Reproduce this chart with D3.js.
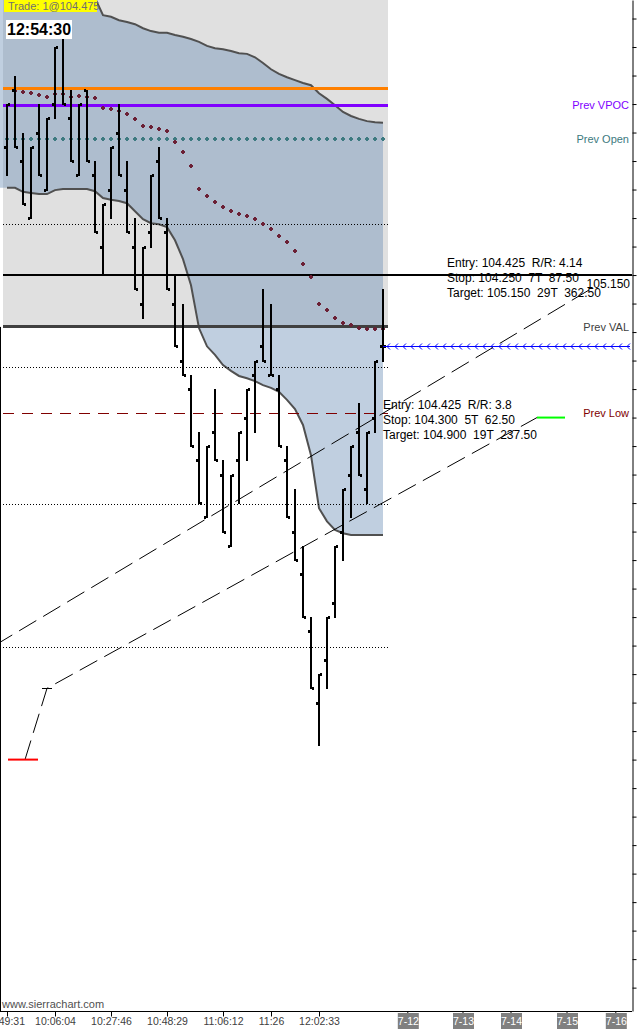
<!DOCTYPE html>
<html>
<head>
<meta charset="utf-8">
<script src="https://cdn.jsdelivr.net/npm/d3@7"></script>
<style>
  body { margin: 0; background: #fff; }
  svg { display: block; }
  text { font-family: "Liberation Sans", Arial, sans-serif; white-space: pre; }
</style>
</head>
<body>
<div class="price-chart"></div>
<script>
const width = 637;
const height = 1029;
const plotRight = 632;
const plotBottom = 1011;

// OHLC bars, one per bar slot (index 0 = 9:49:31)
const barOpen = [105.375, 105.475, 105.350, 105.250, 105.400, 105.300, 105.450, 105.575, 105.425, 105.325,
  105.475, 105.325, 105.200, 105.300, 105.400, 105.300, 105.200, 105.100, 105.225, 105.350,
  105.225, 105.100, 105.000, 104.950, 104.825, 104.725, 104.875, 104.800, 104.675, 104.825,
  104.900, 104.975, 105.025, 104.975, 104.950, 104.825, 104.700, 104.625, 104.525, 104.400,
  104.475, 104.575, 104.700, 104.800, 104.875, 104.775, 104.900, 105.025];
const barHigh = [105.450, 105.500, 105.400, 105.375, 105.450, 105.425, 105.550, 105.575, 105.475, 105.450,
  105.475, 105.350, 105.275, 105.375, 105.450, 105.350, 105.250, 105.200, 105.325, 105.375,
  105.250, 105.150, 105.100, 104.975, 104.875, 104.850, 104.950, 104.825, 104.800, 104.875,
  104.950, 105.000, 105.125, 105.100, 104.975, 104.850, 104.775, 104.675, 104.550, 104.450,
  104.550, 104.675, 104.775, 104.850, 104.925, 104.875, 105.000, 105.125];
const barLow = [105.325, 105.375, 105.275, 105.250, 105.325, 105.300, 105.425, 105.450, 105.350, 105.325,
  105.350, 105.225, 105.150, 105.250, 105.325, 105.225, 105.125, 105.075, 105.200, 105.250,
  105.125, 105.025, 104.975, 104.850, 104.750, 104.725, 104.825, 104.700, 104.675, 104.750,
  104.825, 104.875, 105.000, 104.975, 104.850, 104.725, 104.650, 104.550, 104.425, 104.325,
  104.425, 104.550, 104.650, 104.725, 104.800, 104.750, 104.875, 105.000];
const barClose = [105.450, 105.375, 105.275, 105.375, 105.325, 105.425, 105.550, 105.450, 105.350, 105.450,
  105.350, 105.225, 105.275, 105.375, 105.325, 105.225, 105.125, 105.200, 105.325, 105.250,
  105.125, 105.025, 104.975, 104.850, 104.750, 104.850, 104.825, 104.700, 104.800, 104.875,
  104.950, 105.000, 105.000, 104.975, 104.850, 104.725, 104.650, 104.550, 104.425, 104.450,
  104.550, 104.675, 104.775, 104.850, 104.800, 104.875, 105.000, 105.025];

// band (upper / lower), one value per bar slot
const bandUpper = [105.738, 105.724, 105.711, 105.701, 105.690, 105.680, 105.671, 105.662, 105.654, 105.646,
  105.639, 105.636, 105.606, 105.603, 105.597, 105.594, 105.590, 105.583, 105.578, 105.575,
  105.575, 105.571, 105.568, 105.564, 105.559, 105.552, 105.548, 105.546, 105.543, 105.539,
  105.538, 105.532, 105.522, 105.511, 105.503, 105.497, 105.492, 105.487, 105.483, 105.469,
  105.459, 105.448, 105.436, 105.429, 105.424, 105.420, 105.418, 105.417];
const bandLower = [105.303, 105.303, 105.296, 105.294, 105.292, 105.292, 105.299, 105.301, 105.301, 105.301,
  105.301, 105.297, 105.285, 105.282, 105.280, 105.276, 105.262, 105.248, 105.241, 105.239,
  105.234, 105.211, 105.178, 105.132, 105.057, 105.025, 105.010, 104.992, 104.982, 104.973,
  104.969, 104.964, 104.957, 104.952, 104.945, 104.931, 104.915, 104.887, 104.834, 104.741,
  104.718, 104.703, 104.697, 104.694, 104.694, 104.694, 104.694, 104.694];

// dotted average (maroon dots)
const vwap = [null, 105.473, 105.471, 105.469, 105.466, 105.462, 105.468, 105.468, 105.462, 105.464,
  105.462, 105.461, 105.443, 105.441, 105.438, 105.432, 105.424, 105.411, 105.410, 105.406,
  105.403, 105.383, 105.366, 105.341, 105.301, 105.289, 105.278, 105.269, 105.262, 105.257,
  105.254, 105.248, 105.239, 105.231, 105.218, 105.208, 105.192, 105.169, 105.146, 105.099,
  105.089, 105.075, 105.066, 105.062, 105.057, 105.055, 105.055, 105.055];

// horizontal levels
const orangeLevel = 105.478;
const prevVpoc = 105.448;
const prevOpen = 105.389;
const prevVal = 105.059;
const prevLow = 104.908;
const targetLevel = 105.150;
const lastPrice = 105.025;
const gridLevels = [105.240, 104.989, 104.748, 104.497];

// risk / reward drawings (bar index, price)
const rrUpper = [{ i: -10.5, p: 104.425 }, { i: 72.9, p: 105.125 }];
const rrLowerStop = { i: 2.25, p: 104.300 };
const rrLowerEntry = { i: 5, p: 104.425 };
const rrLowerTarget = { i: 66.25, p: 104.900 };
const rrUpperText = ["Entry: 104.425  R/R: 4.14", "Stop: 104.250  7T  87.50", "Target: 105.150  29T  362.50"];
const rrLowerText = ["Entry: 104.425  R/R: 3.8", "Stop: 104.300  5T  62.50", "Target: 104.900  19T  237.50"];

// axis labels
const timeTickIdx = [0, 6, 13, 20, 27, 33, 39];
const timeTickLabels = ["9:49:31", "10:06:04", "10:27:46", "10:48:29", "11:06:12", "11:26", "12:02:33"];
const dateTickIdx = [50.1, 57, 63, 70, 76.1];
const dateTickLabels = ["7-12", "7-13", "7-14", "7-15", "7-16"];
const priceTicks = d3.range(103.9, 105.62, 0.05);

const x = d3.scaleLinear().domain([0, 78.125]).range([7, plotRight]);
const y = d3.scaleLinear().domain([103.859, 105.6325]).range([plotBottom, 0]);

const svg = d3.select(".price-chart")
  .append("svg")
  .attr("width", width)
  .attr("height", height);

const nBars = barOpen.length;
const lastX = x(nBars - 1);

// previous value area background
svg.append("rect")
  .attr("x", 3)
  .attr("y", 0)
  .attr("width", lastX + 5 - 3)
  .attr("height", y(prevVal))
  .attr("fill", "#e0e0e0");

// band fill (starts at chart left edge)
const bandData = bandUpper.map((u, i) => ({ i: i, u: u, l: bandLower[i] }));
const bandFillData = [{ i: x.invert(0), u: bandUpper[0], l: bandLower[0] }].concat(bandData);
svg.append("path")
  .datum(bandFillData)
  .attr("fill", "rgba(105,141,181,0.42)")
  .attr("d", d3.area().x(d => x(d.i)).y0(d => y(d.l)).y1(d => y(d.u)));

svg.append("path")
  .datum(bandData)
  .attr("fill", "none")
  .attr("stroke", "#505050")
  .attr("stroke-width", 2)
  .attr("d", d3.line().x(d => x(d.i)).y(d => y(d.u)));
svg.append("path")
  .datum(bandData)
  .attr("fill", "none")
  .attr("stroke", "#505050")
  .attr("stroke-width", 2)
  .attr("d", d3.line().x(d => x(d.i)).y(d => y(d.l)));

// dotted grid
svg.selectAll("line.grid")
  .data(gridLevels)
  .join("line")
  .attr("class", "grid")
  .attr("x1", 3)
  .attr("x2", lastX + 5)
  .attr("y1", d => Math.round(y(d)) + 0.5)
  .attr("y2", d => Math.round(y(d)) + 0.5)
  .attr("stroke", "#000")
  .attr("stroke-dasharray", "1,2")
  .attr("shape-rendering", "crispEdges");

// level lines
function levelLine(price, color, w, dash, x2) {
  svg.append("line")
    .attr("x1", 3)
    .attr("x2", x2)
    .attr("y1", y(price))
    .attr("y2", y(price))
    .attr("stroke", color)
    .attr("stroke-width", w)
    .attr("stroke-dasharray", dash)
    .attr("shape-rendering", "crispEdges");
}
levelLine(orangeLevel, "#ff8000", 3, null, lastX + 5);
levelLine(prevVpoc, "#8000ff", 3, null, lastX + 5);
levelLine(prevVal, "#404040", 3, null, lastX + 5);
levelLine(prevLow, "#800000", 1, "11,8", lastX + 5);
levelLine(targetLevel, "#000", 2, null, plotRight);

// small plus markers
function plusMarks(data, cls, color) {
  const g = svg.append("g").attr("class", cls).attr("fill", color).attr("shape-rendering", "crispEdges");
  g.selectAll("rect.h")
    .data(data)
    .join("rect")
    .attr("class", "h")
    .attr("x", d => Math.round(x(d.i)) - 2)
    .attr("y", d => Math.round(y(d.p)) - 1)
    .attr("width", 4)
    .attr("height", 2);
  g.selectAll("rect.v")
    .data(data)
    .join("rect")
    .attr("class", "v")
    .attr("x", d => Math.round(x(d.i)) - 1)
    .attr("y", d => Math.round(y(d.p)) - 2)
    .attr("width", 2)
    .attr("height", 4);
}
plusMarks(d3.range(nBars).map(i => ({ i: i, p: prevOpen })), "prev-open", "#3d7a80");
plusMarks(vwap.map((p, i) => ({ i: i, p: p })).filter(d => d.p !== null), "vwap", "#6b2035");

// OHLC bars
const bars = barOpen.map((o, i) => ({ i: i, o: o, h: barHigh[i], l: barLow[i], c: barClose[i] }));
const barG = svg.append("g").attr("fill", "#000").attr("shape-rendering", "crispEdges");
barG.selectAll("rect.hl")
  .data(bars)
  .join("rect")
  .attr("class", "hl")
  .attr("x", d => x(d.i) - 1)
  .attr("width", 2)
  .attr("y", d => y(d.h))
  .attr("height", d => y(d.l) - y(d.h) + 1);
barG.selectAll("rect.open")
  .data(bars)
  .join("rect")
  .attr("class", "open")
  .attr("x", d => x(d.i) - 3)
  .attr("width", 2)
  .attr("y", d => y(d.o) - 1)
  .attr("height", 3);
barG.selectAll("rect.close")
  .data(bars)
  .join("rect")
  .attr("class", "close")
  .attr("x", d => x(d.i) + 1)
  .attr("width", 2)
  .attr("y", d => y(d.c) - 1)
  .attr("height", 3);

// last price line with arrows
svg.append("line")
  .attr("x1", lastX)
  .attr("x2", plotRight - 2)
  .attr("y1", Math.round(y(lastPrice)) + 0.5)
  .attr("y2", Math.round(y(lastPrice)) + 0.5)
  .attr("stroke", "#0000ff")
  .attr("stroke-width", 1);
svg.selectAll("path.arrow")
  .data(d3.range(nBars - 0.5, 78, 1))
  .join("path")
  .attr("class", "arrow")
  .attr("fill", "none")
  .attr("stroke", "#0000ff")
  .attr("d", d => {
    const ax = x(d), ay = Math.round(y(lastPrice)) + 0.5;
    return `M${ax + 3},${ay - 3}L${ax},${ay}L${ax + 3},${ay + 3}`;
  });

// risk / reward lines
const rrLine = d3.line().x(d => x(d.i)).y(d => y(d.p));
svg.append("path")
  .datum(rrUpper)
  .attr("fill", "none")
  .attr("stroke", "#000")
  .attr("stroke-dasharray", "20,8")
  .attr("d", rrLine);
svg.append("path")
  .datum([rrLowerStop, rrLowerEntry, rrLowerTarget])
  .attr("fill", "none")
  .attr("stroke", "#000")
  .attr("stroke-dasharray", "20,8")
  .attr("d", rrLine);
svg.append("line")
  .attr("x1", x(rrLowerStop.i) - 17).attr("x2", x(rrLowerStop.i) + 13)
  .attr("y1", y(rrLowerStop.p)).attr("y2", y(rrLowerStop.p))
  .attr("stroke", "#ff0000").attr("stroke-width", 2);
svg.append("line")
  .attr("x1", x(rrLowerEntry.i) - 5).attr("x2", x(rrLowerEntry.i) + 5)
  .attr("y1", Math.round(y(rrLowerEntry.p)) + 0.5).attr("y2", Math.round(y(rrLowerEntry.p)) + 0.5)
  .attr("stroke", "#000").attr("stroke-width", 1);
svg.append("line")
  .attr("x1", x(rrLowerTarget.i)).attr("x2", x(rrLowerTarget.i) + 28)
  .attr("y1", y(rrLowerTarget.p)).attr("y2", y(rrLowerTarget.p))
  .attr("stroke", "#00ff00").attr("stroke-width", 2);

function textBlock(lines, tx, ty) {
  svg.selectAll(null)
    .data(lines)
    .enter()
    .append("text")
    .attr("x", tx)
    .attr("y", (d, i) => ty + i * 15)
    .attr("font-size", "12px")
    .attr("fill", "#000")
    .text(d => d);
}
textBlock(rrUpperText, 447, 267);
textBlock(rrLowerText, 383, 409);

svg.append("text")
  .attr("x", 630)
  .attr("y", y(targetLevel) + 13)
  .attr("text-anchor", "end")
  .attr("font-size", "12px")
  .text("105.150");

// level labels at right
const levelLabels = [
  { p: prevVpoc, t: "Prev VPOC", c: "#8000ff" },
  { p: prevOpen, t: "Prev Open", c: "#3d7a80" },
  { p: prevVal, t: "Prev VAL", c: "#404040" },
  { p: prevLow, t: "Prev Low", c: "#800000" }
];
svg.selectAll("text.lvl")
  .data(levelLabels)
  .join("text")
  .attr("class", "lvl")
  .attr("x", 629)
  .attr("y", d => y(d.p) + 4)
  .attr("text-anchor", "end")
  .attr("font-size", "11px")
  .attr("fill", d => d.c)
  .text(d => d.t);

// frame lines
svg.append("line")
  .attr("x1", 0.5).attr("x2", 0.5).attr("y1", y(prevVal)).attr("y2", plotBottom)
  .attr("stroke", "#000");
svg.append("line")
  .attr("x1", 0).attr("x2", plotRight).attr("y1", plotBottom + 0.5).attr("y2", plotBottom + 0.5)
  .attr("stroke", "#000");

// right price axis (tick marks only)
svg.append("g")
  .attr("transform", `translate(${plotRight + 0.5},0)`)
  .call(d3.axisRight(y).tickValues(priceTicks).tickSize(4).tickSizeOuter(0).tickFormat(""))
  .call(g => g.select(".domain").attr("stroke", "#000"));

// time axis
const xAxisG = svg.append("g")
  .attr("transform", `translate(0,${plotBottom + 0.5})`)
  .call(d3.axisBottom(x).tickValues(timeTickIdx).tickSize(5).tickSizeOuter(0)
    .tickFormat((d, i) => timeTickLabels[i]));
xAxisG.select(".domain").remove();
xAxisG.selectAll("text")
  .attr("font-family", "Liberation Sans, Arial, sans-serif")
  .attr("font-size", "10.5px")
  .attr("fill", "#404040")
  .attr("y", 6)
  .attr("dy", "0.71em");

// date labels in the future area
const dateG = svg.append("g").selectAll("g")
  .data(dateTickIdx)
  .join("g")
  .attr("transform", d => `translate(${x(d)},${plotBottom})`);
dateG.append("line").attr("y1", 0).attr("y2", 5).attr("stroke", "#000");
dateG.append("rect")
  .attr("x", -10).attr("y", 2).attr("width", 21).attr("height", 16)
  .attr("fill", "#808080");
dateG.append("text")
  .attr("x", 0.5).attr("y", 14)
  .attr("text-anchor", "middle")
  .attr("font-size", "10.5px")
  .attr("fill", "#fff")
  .text((d, i) => dateTickLabels[i]);

svg.append("text")
  .attr("x", 2).attr("y", 1008)
  .attr("font-size", "11px")
  .attr("fill", "#505050")
  .text("www.sierrachart.com");

// trade and clock boxes
svg.append("rect").attr("x", 4).attr("y", 0).attr("width", 93).attr("height", 12).attr("fill", "#ffff00");
svg.append("text").attr("x", 8).attr("y", 10).attr("font-size", "11px").attr("fill", "#707070")
  .text("Trade: 1@104.475");
svg.append("rect").attr("x", 6).attr("y", 20).attr("width", 66).attr("height", 19).attr("fill", "#fff");
svg.append("text").attr("x", 7).attr("y", 35).attr("font-size", "16px").attr("font-weight", "bold")
  .attr("fill", "#000").text("12:54:30");
</script>
</body>
</html>
